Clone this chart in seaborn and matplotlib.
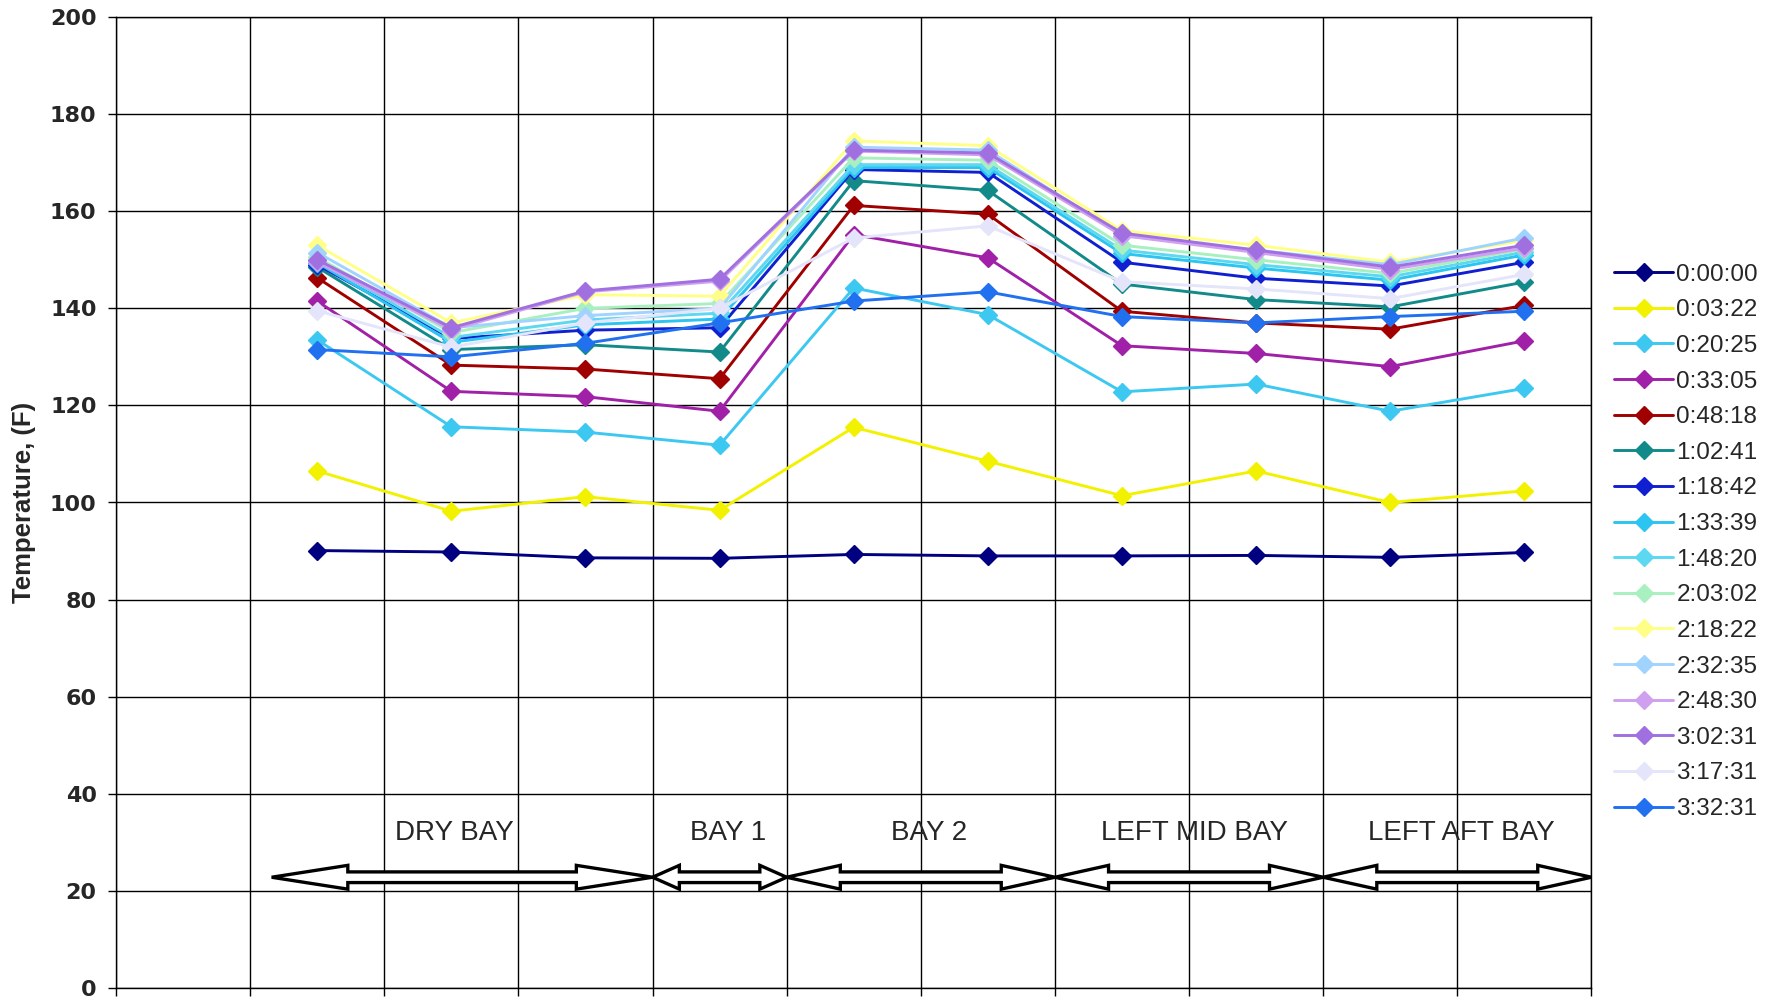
import numpy as np
import pandas as pd
import matplotlib
matplotlib.use("Agg")
import matplotlib.pyplot as plt
from matplotlib.patches import Polygon
import seaborn as sns

# ---------------------------------------------------------
# DATA
# ---------------------------------------------------------
positions = [1.5, 2.5, 3.5, 4.5, 5.5, 6.5, 7.5, 8.5, 9.5, 10.5]

times = ["0:00:00", "0:03:22", "0:20:25", "0:33:05", "0:48:18", "1:02:41",
         "1:18:42", "1:33:39", "1:48:20", "2:03:02", "2:18:22", "2:32:35",
         "2:48:30", "3:02:31", "3:17:31", "3:32:31"]

t_000000 = [90.1, 89.8, 88.6, 88.5, 89.3, 89.0, 89.0, 89.1, 88.7, 89.7]
t_000322 = [106.5, 98.2, 101.2, 98.4, 115.5, 108.5, 101.4, 106.5, 100.0, 102.4]
t_002025 = [133.5, 115.6, 114.5, 111.8, 144.2, 138.7, 122.8, 124.4, 118.8, 123.5]
t_003305 = [141.5, 122.9, 121.8, 118.8, 155.2, 150.4, 132.3, 130.7, 128.0, 133.3]
t_004818 = [146.3, 128.3, 127.5, 125.5, 161.2, 159.4, 139.4, 137.0, 135.7, 140.6]
t_010241 = [148.5, 131.5, 132.5, 131.0, 166.3, 164.3, 145.0, 141.8, 140.3, 145.4]
t_011842 = [149.0, 133.8, 135.5, 136.0, 168.6, 168.0, 149.5, 146.2, 144.6, 149.5]
t_013339 = [149.4, 133.0, 136.6, 137.8, 169.0, 169.0, 151.3, 148.3, 145.8, 151.0]
t_014820 = [150.0, 134.0, 137.6, 139.0, 169.6, 169.6, 152.0, 149.0, 146.5, 151.6]
t_020302 = [150.5, 135.0, 140.0, 141.0, 171.0, 170.5, 153.0, 150.0, 147.2, 152.2]
t_021822 = [153.0, 137.0, 142.8, 142.5, 174.5, 173.5, 156.0, 153.0, 149.5, 154.0]
t_023235 = [151.5, 136.0, 138.5, 140.0, 173.2, 172.6, 155.0, 152.0, 149.0, 154.5]
t_024830 = [149.5, 135.6, 143.4, 145.6, 172.4, 171.6, 155.0, 151.5, 148.0, 152.4]
t_030231 = [150.0, 136.0, 143.6, 146.0, 172.6, 172.0, 155.5, 152.0, 148.5, 153.0]
t_031731 = [139.5, 132.0, 137.0, 140.0, 154.5, 157.0, 145.5, 144.0, 142.0, 147.0]
t_033231 = [131.5, 130.0, 132.8, 137.0, 141.5, 143.4, 138.3, 137.0, 138.3, 139.4]

all_temps = [t_000000, t_000322, t_002025, t_003305, t_004818, t_010241,
             t_011842, t_013339, t_014820, t_020302, t_021822, t_023235,
             t_024830, t_030231, t_031731, t_033231]

line_colors = ["#000080", "#F2F200", "#3CC8F0", "#A020A8", "#A00000", "#138A8A",
               "#1020D0", "#2CC4F0", "#5CD8F0", "#A8F0C0", "#FFFF88", "#A0D4FF",
               "#D0A0F0", "#A070E0", "#E4E4FA", "#2070F0"]

# bays drawn as double arrows under the curves
bay_names = ["DRY BAY", "BAY 1", "BAY 2", "LEFT MID BAY", "LEFT AFT BAY"]
bay_start = [1.16, 4.0, 5.0, 7.0, 9.0]
bay_end = [4.0, 5.0, 7.0, 9.0, 11.0]
bay_label_x = [2.52, 4.56, 6.06, 8.04, 10.03]

# ---------------------------------------------------------
# LONG FORM TABLE
# ---------------------------------------------------------
rows = []
for t, vals in zip(times, all_temps):
    for p, v in zip(positions, vals):
        rows.append({"time": t, "pos": p, "temp": v})
df = pd.DataFrame(rows)

palette = dict(zip(times, line_colors))

# ---------------------------------------------------------
# PLOT
# ---------------------------------------------------------
sns.set_style("white")
plt.rcParams["font.family"] = ["Liberation Sans", "DejaVu Sans"]

fig = plt.figure(figsize=(17.69, 10.05), dpi=100)
ax = fig.add_axes([0.0656, 0.017, 0.834, 0.966])

sns.lineplot(data=df, x="pos", y="temp", hue="time", palette=palette,
             hue_order=times, marker="D", markersize=9, linewidth=2.1,
             sort=False, legend=False, ax=ax)

for line in ax.lines:
    line.set_markeredgecolor(line.get_color())
    line.set_markeredgewidth(1)

# double arrows + bay labels
y_c, head_h, shaft_h = 22.8, 2.45, 1.1
for name, x0, x1, xl in zip(bay_names, bay_start, bay_end, bay_label_x):
    hl = 0.2 * (x1 - x0)
    pts = [(x0, y_c), (x0 + hl, y_c + head_h), (x0 + hl, y_c + shaft_h),
           (x1 - hl, y_c + shaft_h), (x1 - hl, y_c + head_h), (x1, y_c),
           (x1 - hl, y_c - head_h), (x1 - hl, y_c - shaft_h),
           (x0 + hl, y_c - shaft_h), (x0 + hl, y_c - head_h)]
    ax.add_patch(Polygon(pts, closed=True, facecolor="white",
                         edgecolor="black", linewidth=2.4, zorder=3))
    ax.text(xl, 32, name, ha="center", va="center", fontsize=20, zorder=4)

ax.set_xlim(0, 11)
ax.set_ylim(0, 200)
ax.set_xticks(range(0, 12))
ax.set_xticklabels([])
ax.set_yticks(range(0, 201, 20))
ax.set_yticklabels([str(v) for v in range(0, 201, 20)],
                   fontfamily="DejaVu Sans", fontweight="bold", fontsize=16)
ax.tick_params(axis="both", direction="out", length=6, width=1, color="black",
               left=True, bottom=True, pad=8)
ax.grid(True, color="black", linewidth=1)
ax.set_axisbelow(True)
for s in ax.spines.values():
    s.set_color("black")
    s.set_linewidth(1)

ax.set_xlabel("")
ax.set_ylabel("Temperature, (F)", fontsize=18.5, fontweight="bold", labelpad=10)

handles = ax.lines[:len(times)]
leg = ax.legend(handles, times, loc="upper left", bbox_to_anchor=(1.009, 0.756),
                frameon=False, fontsize=17.5, handlelength=2.4, handletextpad=0.15,
                labelspacing=0.56, borderaxespad=0)

fig.savefig("out.png", dpi=100)
